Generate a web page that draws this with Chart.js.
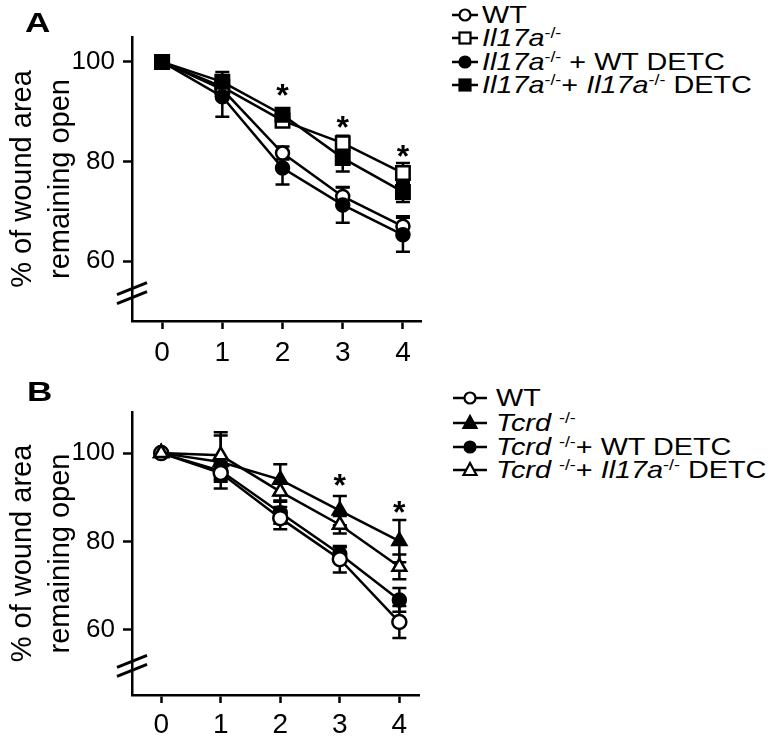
<!DOCTYPE html>
<html>
<head>
<meta charset="utf-8">
<script src="https://cdn.jsdelivr.net/npm/chart.js@4.4.1/dist/chart.umd.min.js"></script>
<style>
  body { margin: 0; background: #fff; }
  #page { position: relative; width: 769px; height: 751px; font-family: "Liberation Sans", Arial, sans-serif; color: #000; }
  canvas { position: absolute; left: 0; }
  .panel-label { position: absolute; font-weight: bold; font-size: 27px; line-height: 27px; transform: scaleX(1.3); transform-origin: left top; }
  .legend-row { position: absolute; height: 24px; display: flex; align-items: center; white-space: nowrap; }
  .legend-row span { display: inline-block; font-size: 24px; line-height: 24px; transform: scaleX(1.2); transform-origin: left center; }
  sup { font-size: 0.62em; line-height: 0; vertical-align: 0.55em; }
</style>
</head>
<body>
<div id="page">
  <canvas id="chartA" width="440" height="370" style="top:0"></canvas>
  <canvas id="chartB" width="440" height="381" style="top:370px"></canvas>
  <div class="panel-label" style="left:25px;top:10px">A</div>
  <div class="panel-label" style="left:27px;top:379px">B</div>
  <div id="legendA"></div>
  <div id="legendB"></div>
</div>
<script>
// дни после ранения
const days = [0, 1, 2, 3, 4];
const yTickValues = [60, 80, 100];

// Панель A (Il17a)
const aWT = [100, 94.5, 81.7, 73, 67];
const aWTErr = [0, 1, 1.3, 1.8, 2];
const aKO = [100, 95, 88.2, 83.7, 77.7];
const aKOErr = [0, 1.5, 1, 1.5, 2];
const aKOWtDetc = [100, 93, 78.7, 71.3, 65.3];
const aKOWtDetcErr = [0, 4, 3.3, 3.6, 3.4];
const aKOKoDetc = [100, 96, 89.4, 80.7, 73.9];
const aKOKoDetcErr = [0, 2, 1, 2.7, 2];
const aStars = [null, null, 94.4, 88, 82.2];

// Панель B (Tcrd)
const bWT = [100, 95.5, 85.3, 76, 61.8];
const bWTErr = [0, 2, 2.5, 3, 3.6];
const bKO = [100, 98, 94, 87, 80.1];
const bKOErr = [0, 6, 3.5, 3.3, 4.8];
const bKOWtDetc = [100, 96, 86.5, 77.2, 66.8];
const bKOWtDetcErr = [0, 2, 2.5, 1.5, 2.7];
const bKOKoDetc = [100, 99.5, 91.3, 83.8, 74.3];
const bKOKoDetcErr = [0, 5.2, 2, 2, 2.8];
const bStars = [null, null, null, 93.9, 87.8];

const fontFamily = '"Liberation Sans", Arial, sans-serif';

// Планки погрешностей рисуем под линиями
const errorBars = {
    id: 'errorBars',
    beforeDatasetsDraw(chart) {
        const {ctx, scales: {x, y}} = chart;
        ctx.save();
        ctx.strokeStyle = '#000';
        ctx.lineWidth = 2.5;
        chart.data.datasets.forEach(ds => {
            ds.data.forEach((p, i) => {
                const e = ds.errors[i];
                if (!e) return;
                const px = x.getPixelForValue(p.x);
                const top = y.getPixelForValue(p.y + e);
                const bot = y.getPixelForValue(p.y - e);
                ctx.beginPath();
                ctx.moveTo(px, top); ctx.lineTo(px, bot);
                ctx.moveTo(px - 7, top); ctx.lineTo(px + 7, top);
                ctx.moveTo(px - 7, bot); ctx.lineTo(px + 7, bot);
                ctx.stroke();
            });
        });
        ctx.restore();
    }
};

// Звёздочки и разрыв оси
const extras = {
    id: 'extras',
    afterDraw(chart, args, opts) {
        const {ctx, scales: {x, y}} = chart;
        ctx.save();
        ctx.fillStyle = '#000';
        ctx.font = 'bold 32px ' + fontFamily;
        ctx.textAlign = 'center';
        ctx.textBaseline = 'alphabetic';
        const m = ctx.measureText('*');
        opts.stars.forEach((s, i) => {
            if (s === null) return;
            const cy = y.getPixelForValue(s);
            ctx.fillText('*', x.getPixelForValue(days[i]), cy + (m.actualBoundingBoxAscent - m.actualBoundingBoxDescent) / 2);
        });
        const ax = y.right;
        const by = y.getPixelForValue(opts.breakAt);
        ctx.strokeStyle = '#000';
        ctx.lineWidth = 3;
        [-4.5, 4.5].forEach(dy => {
            ctx.beginPath();
            ctx.moveTo(ax - 15, by + dy + 6);
            ctx.lineTo(ax + 15, by + dy - 6);
            ctx.stroke();
        });
        ctx.restore();
    }
};

function series(label, values, errors, style, fill, radius, order) {
    return {
        label: label,
        order: order,
        data: days.map((d, i) => ({x: d, y: values[i]})),
        errors: errors,
        borderColor: '#000',
        borderWidth: 2.5,
        tension: 0,
        pointStyle: style,
        pointRadius: radius,
        pointBorderWidth: 2.5,
        pointBackgroundColor: fill,
        pointBorderColor: '#000'
    };
}

function makeChart(id, datasets, o) {
    return new Chart(document.getElementById(id), {
        type: 'line',
        data: { datasets: datasets },
        plugins: [errorBars, extras],
        options: {
            responsive: false,
            animation: false,
            layout: { padding: { top: o.top, right: o.right, left: 0, bottom: 0 } },
            plugins: {
                legend: { display: false },
                tooltip: { enabled: false },
                extras: { stars: o.stars, breakAt: o.breakAt }
            },
            scales: {
                x: {
                    type: 'linear',
                    min: o.xMin,
                    max: o.xMax,
                    afterBuildTicks: s => { s.ticks = days.map(v => ({value: v})); },
                    afterFit: s => { s.height = o.xHeight; },
                    grid: { drawOnChartArea: false, drawTicks: true, tickLength: 8, tickWidth: 2.5, tickColor: '#000' },
                    border: { color: '#000', width: 2.5 },
                    ticks: { color: '#000', font: { family: fontFamily, size: 28 }, padding: o.xPad }
                },
                y: {
                    min: o.yMin,
                    max: o.yMax,
                    afterBuildTicks: s => { s.ticks = yTickValues.map(v => ({value: v})); },
                    afterFit: s => { s.width = 132; },
                    grid: { drawOnChartArea: false, drawTicks: true, tickLength: 9, tickWidth: 2.5, tickColor: '#000' },
                    border: { color: '#000', width: 2.5 },
                    ticks: { color: '#000', font: { family: fontFamily, size: 26 }, padding: 8 },
                    title: {
                        display: true,
                        text: ['% of wound area', 'remaining open'],
                        color: '#000',
                        font: { family: fontFamily, size: 29, lineHeight: 1.31 },
                        padding: { top: 4, bottom: 0 }
                    }
                }
            }
        }
    });
}

makeChart('chartA', [
    series('WT', aWT, aWTErr, 'circle', '#fff', 6.5, 2),
    series('Il17a-/-', aKO, aKOErr, 'rect', '#fff', 9.5, 3),
    series('Il17a-/- + WT DETC', aKOWtDetc, aKOWtDetcErr, 'circle', '#000', 6.5, 1),
    series('Il17a-/- + Il17a-/- DETC', aKOKoDetc, aKOKoDetcErr, 'rect', '#000', 9.5, 0)
], { top: 37, right: 19, xMin: -0.5, xMax: 4.3, xHeight: 49, xPad: 7, yMin: 48, yMax: 105, stars: aStars, breakAt: 53.6 });

makeChart('chartB', [
    series('WT', bWT, bWTErr, 'circle', '#fff', 7, 1),
    series('Tcrd-/-', bKO, bKOErr, 'triangle', '#000', 8, 3),
    series('Tcrd-/- + WT DETC', bKOWtDetc, bKOWtDetcErr, 'circle', '#000', 6.5, 2),
    series('Tcrd-/- + Il17a-/- DETC', bKOKoDetc, bKOKoDetcErr, 'triangle', '#fff', 8, 0)
], { top: 42, right: 21, xMin: -0.49, xMax: 4.33, xHeight: 56, xPad: 5, yMin: 45.3, yMax: 109.3, stars: bStars, breakAt: 51.9 });

// Легенды (HTML, чтобы были курсив и верхние индексы)
function markerSvg(shape, fill, w) {
    const m = w / 2;
    let mark = '';
    if (shape === 'circle') mark = `<circle cx="${m}" cy="12" r="5.5" fill="${fill}" stroke="#000" stroke-width="2.2"/>`;
    if (shape === 'rect') mark = `<rect x="${m - 5.5}" y="6.5" width="11" height="11" fill="${fill}" stroke="#000" stroke-width="2.2"/>`;
    if (shape === 'triangle') mark = `<polygon points="${m},5 ${m + 6.5},17 ${m - 6.5},17" fill="${fill}" stroke="#000" stroke-width="2.2"/>`;
    return `<svg width="${w}" height="24"><line x1="0" y1="12" x2="${w}" y2="12" stroke="#000" stroke-width="2.5"/>${mark}</svg>`;
}

function buildLegend(elId, left, lineW, gap, rows) {
    const el = document.getElementById(elId);
    rows.forEach(r => {
        const div = document.createElement('div');
        div.className = 'legend-row';
        div.style.left = left + 'px';
        div.style.top = (r.cy - 12) + 'px';
        div.innerHTML = markerSvg(r.shape, r.fill, lineW) + `<span style="margin-left:${gap}px">${r.html}</span>`;
        el.appendChild(div);
    });
}

buildLegend('legendA', 452, 26, 4, [
    { cy: 15, shape: 'circle', fill: '#fff', html: 'WT' },
    { cy: 38, shape: 'rect', fill: '#fff', html: '<i>Il17a</i><sup>-/-</sup>' },
    { cy: 62, shape: 'circle', fill: '#000', html: '<i>Il17a</i><sup>-/-</sup> + WT DETC' },
    { cy: 85, shape: 'rect', fill: '#000', html: '<i>Il17a</i><sup>-/-</sup>+ <i>Il17a</i><sup>-/-</sup> DETC' }
]);

buildLegend('legendB', 453, 34, 9, [
    { cy: 398, shape: 'circle', fill: '#fff', html: 'WT' },
    { cy: 423, shape: 'triangle', fill: '#000', html: '<i>Tcrd</i> <sup>-/-</sup>' },
    { cy: 447, shape: 'circle', fill: '#000', html: '<i>Tcrd</i> <sup>-/-</sup>+ WT DETC' },
    { cy: 470, shape: 'triangle', fill: '#fff', html: '<i>Tcrd</i> <sup>-/-</sup>+ <i>Il17a</i><sup>-/-</sup> DETC' }
]);
</script>
</body>
</html>
